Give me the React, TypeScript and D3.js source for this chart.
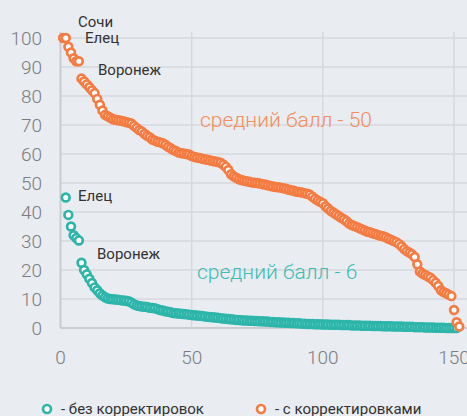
import React, { useRef, useEffect } from "react";
import * as d3 from "d3";

// sorted scores per city, with corrections (orange) starting at x = 1
const withCorr: number[] = [
  100, 100, 97, 95, 93, 92, 92, 86, 85, 84,
  83, 82, 81, 79, 77, 75, 73.5, 73, 72.5, 72,
  71.8, 71.6, 71.5, 71.3, 71, 70.8, 70.5, 69.7, 69, 68.3,
  67.8, 67, 66.3, 65.8, 65, 64.6, 64.2, 64, 63.7, 63.2,
  62.5, 62, 61.4, 61, 60.5, 60.3, 60.2, 60, 59.8, 59.3,
  59, 58.8, 58.6, 58.4, 58.2, 58, 57.8, 57.6, 57.4, 57.2,
  57, 56.4, 55.6, 54.5, 53, 52.3, 51.8, 51.3, 51, 50.8,
  50.6, 50.4, 50.2, 50.1, 50, 49.8, 49.6, 49.5, 49.2, 49,
  48.8, 48.6, 48.5, 48.4, 48.2, 48, 47.7, 47.5, 47.3, 47,
  46.9, 46.7, 46.5, 46.3, 46, 45.3, 44.6, 44, 43.5, 43,
  42, 41.2, 40.4, 39.8, 39.2, 38.6, 38, 37.5, 36.8, 36,
  35.5, 35.2, 34.8, 34.4, 34, 33.6, 33.2, 33, 32.7, 32.4,
  32.1, 31.8, 31.6, 31.3, 30.8, 30.4, 30, 29.6, 29, 28.2,
  27.2, 26.5, 26, 25.4, 24.5, 22, 19.5, 18.8, 18.3, 17.8,
  17.3, 16.5, 15.6, 14.5, 13, 12.4, 12, 11.5, 11, 6.2,
  2, 0.5,
];

// without corrections (teal) starting at x = 2
const noCorr: number[] = [
  45, 39, 35, 32, 31, 30.2,
  22.5, 20, 18.5, 17, 15.5, 14, 13, 12, 11.2,
  10.6, 10.2, 10, 9.9, 9.8, 9.7, 9.6, 9.5, 9.4, 9.2,
  8.8, 8.2, 7.8, 7.6, 7.4, 7.3, 7.2, 7, 6.9, 6.8,
  6.5, 6.2, 6, 5.8, 5.6, 5.4, 5.2, 5.1, 5, 4.9,
  4.8, 4.7, 4.6, 4.5, 4.4, 4.3, 4.2, 4.1, 4, 3.9,
  3.8, 3.7, 3.6, 3.5, 3.4, 3.3, 3.2, 3.1, 3, 2.9,
  2.8, 2.8, 2.7, 2.6, 2.6, 2.5, 2.5, 2.4, 2.4, 2.3,
  2.3, 2.2, 2.2, 2.1, 2.1, 2, 2, 1.9, 1.9, 1.8,
  1.8, 1.7, 1.7, 1.6, 1.6, 1.5, 1.5, 1.4, 1.4, 1.4,
  1.3, 1.3, 1.3, 1.2, 1.2, 1.2, 1.1, 1.1, 1.1, 1.1,
  1, 1, 1, 1, 0.9, 0.9, 0.9, 0.9, 0.8, 0.8,
  0.8, 0.8, 0.7, 0.7, 0.7, 0.7, 0.6, 0.6, 0.6, 0.6,
  0.5, 0.5, 0.5, 0.5, 0.4, 0.4, 0.4, 0.4, 0.3, 0.3,
  0.3, 0.3, 0.2, 0.2, 0.2, 0.2, 0.1, 0.1, 0.1, 0.1,
  0, 0, 0, 0, 0,
];

const yTicks = [0, 10, 20, 30, 40, 50, 60, 70, 80, 90, 100];
const xTicks = [0, 50, 100, 150];

// city labels
const orangeLabels = ["Сочи", "Елец", "Воронеж"];
const tealLabels = ["Елец", "Воронеж"];

const ORANGE = "#f47c42";
const TEAL = "#2db5aa";
const FONT = "Roboto, 'Noto Sans', sans-serif";

const App = () => {
  const svgRef = useRef<SVGSVGElement>(null);

  useEffect(() => {
    const svg = d3.select(svgRef.current);
    svg.selectAll("*").remove();

    const width = 467;
    const height = 416;

    svg.append("rect").attr("width", width).attr("height", height).attr("fill", "#e9ecf1");

    const x = d3.scaleLinear().domain([0, 150]).range([60.5, 454]);
    const y = d3.scaleLinear().domain([0, 100]).range([328, 38]);

    // gridlines
    svg.append("g").selectAll("line").data(yTicks).enter().append("line")
      .attr("x1", x(0)).attr("x2", width)
      .attr("y1", (d) => y(d)).attr("y2", (d) => y(d))
      .attr("stroke", (d) => (d === 0 ? "#c9cbcf" : "#d7d9dd"))
      .attr("stroke-width", (d) => (d === 0 ? 2 : 1.5));

    svg.append("g").selectAll("line").data(xTicks).enter().append("line")
      .attr("x1", (d) => x(d)).attr("x2", (d) => x(d))
      .attr("y1", 32).attr("y2", y(0))
      .attr("stroke", (d) => (d === 0 ? "#c9cbcf" : "#d7d9dd"))
      .attr("stroke-width", (d) => (d === 0 ? 2 : 1.5));

    // tick labels
    svg.append("g").selectAll("text").data(yTicks).enter().append("text")
      .attr("x", 42).attr("y", (d) => y(d)).attr("dy", "0.36em")
      .attr("text-anchor", "end")
      .attr("font-family", FONT).attr("font-weight", 300).attr("font-size", 19)
      .attr("fill", "#7c7c80")
      .text((d) => d);

    svg.append("g").selectAll("text").data(xTicks).enter().append("text")
      .attr("x", (d) => x(d)).attr("y", 357).attr("dy", "0.36em")
      .attr("text-anchor", "middle")
      .attr("font-family", FONT).attr("font-weight", 300).attr("font-size", 19)
      .attr("fill", "#7c7c80")
      .text((d) => d);

    const drawSeries = (vals: number[], start: number, color: string) => {
      svg.append("g").selectAll("circle").data(vals).enter().append("circle")
        .attr("cx", (d, i) => x(i + start))
        .attr("cy", (d) => y(d))
        .attr("r", 3.9)
        .attr("fill", "#fff")
        .attr("stroke", color)
        .attr("stroke-width", 2.7);
    };
    drawSeries(noCorr, 2, TEAL);
    drawSeries(withCorr, 1, ORANGE);

    // city annotations
    const label = svg.append("g").attr("font-family", FONT).attr("font-size", 15).attr("fill", "#333");
    label.append("text").attr("x", 78).attr("y", 26.5).text(orangeLabels[0]);
    label.append("text").attr("x", 85).attr("y", 42.5).text(orangeLabels[1]);
    label.append("text").attr("x", 98).attr("y", 75).text(orangeLabels[2]);
    label.append("text").attr("x", 78).attr("y", 200.5).text(tealLabels[0]);
    label.append("text").attr("x", 97).attr("y", 259).text(tealLabels[1]);

    // averages
    svg.append("text").attr("x", 200).attr("y", 126.5)
      .attr("font-family", FONT).attr("font-weight", 300).attr("font-size", 21)
      .attr("fill", "#f58d5c").text("средний балл - 50");
    svg.append("text").attr("x", 197).attr("y", 279)
      .attr("font-family", FONT).attr("font-weight", 300).attr("font-size", 21)
      .attr("fill", "#3dbdb3").text("средний балл - 6");

    // legend
    const legend = svg.append("g").attr("font-family", FONT).attr("font-size", 15).attr("fill", "#333");
    const items: [string, string, number][] = [
      ["- без корректировок", TEAL, 47],
      ["- с корректировками", ORANGE, 261],
    ];
    items.forEach(([t, c, lx]) => {
      legend.append("circle").attr("cx", lx).attr("cy", 409).attr("r", 4)
        .attr("fill", "#fff").attr("stroke", c).attr("stroke-width", 2.7);
      legend.append("text").attr("x", lx + 14).attr("y", 413.5).text(t);
    });
  }, []);

  return (
    <svg ref={svgRef} width={467} height={416} style={{ position: "absolute", left: 0, top: 0 }}></svg>
  );
};

export default App;
